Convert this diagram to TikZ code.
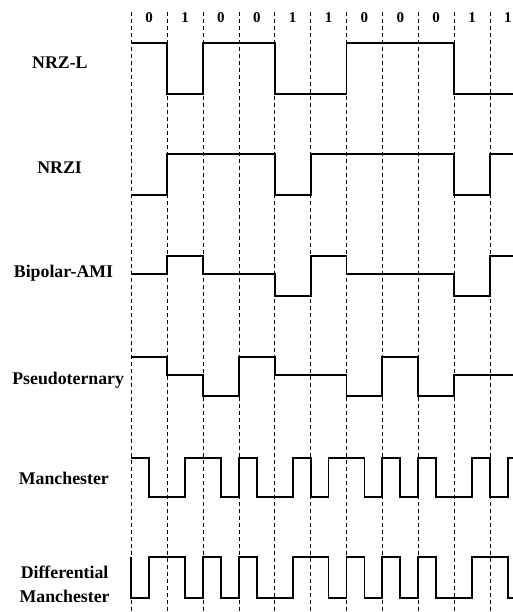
\documentclass[tikz,border=0pt]{standalone}
\usepackage{fontspec}
\setmainfont{Liberation Serif}
\tikzstyle{signal} = [draw, line width=1.8pt]
\tikzstyle{bitline} = [draw, line width=0.7pt, dash pattern=on 4pt off 3pt]
\tikzstyle{codename} = [font=\fontsize{17.8}{24}\selectfont\bfseries, align=center]
\tikzstyle{bitval} = [font=\fontsize{15}{15}\selectfont\bfseries]

\begin{document}
\begin{tikzpicture}[x=35.87pt, y=-1pt]
		\useasboundingbox (-3.6604,0) rectangle (10.641,612);
		% bit boundaries and data bits
		\foreach \i in {0,...,10}
			\path [bitline] (\i,12) -- (\i,612);
		\foreach \b [count=\i from 0] in {0,1,0,0,1,1,0,0,0,1,1}
			\node [bitval] (bit\i) at (\i+0.5,17.5) {\b};
		
		\node [codename] (nrzl) at (-1.99,63) {NRZ-L};
		\node [codename] (nrzi) at (-2.0,168) {NRZI};
		\node [codename] (ami) at (-1.89,273) {Bipolar-AMI};
		\node [codename] (pseudo) at (-1.76,380) {Pseudoternary};
		\node [codename] (manch) at (-1.88,478) {Manchester};
		\node [codename] (diffmanch) at (-1.86,584) {Differential\\Manchester};
		
		% NRZ-L
		\path [signal] (0,43) -| (1,94) -| (2,43) -| (4,94) -| (6,43) -| (9,94) -- (11,94);
		% NRZI
		\path [signal] (0,195) -| (1,154.3) -| (4,195) -| (5,154.3) -| (9,195) -| (10,154.3) -- (11,154.3);
		% Bipolar-AMI
		\path [signal] (0,274.3) -| (1,255.7) -| (2,274.3) -| (4,296) -| (5,255.7) -| (6,274.3) -| (9,296) -| (10,255.7) -- (11,255.7);
		% Pseudoternary
		\path [signal] (0,356.7) -| (1,375) -| (2,396) -| (3,356.7) -| (4,375) -| (6,396) -| (7,356.7) -| (8,396) -| (9,375) -- (11,375);
		% Manchester
		\path [signal] (0,457.7) -| (0.5,496.7) -| (1.5,457.7) -| (2.5,496.7) -| (3,457.7) -| (3.5,496.7) -| (4.5,457.7) -| (5,496.7) -| (5.5,457.7) -| (6.5,496.7) -| (7,457.7) -| (7.5,496.7) -| (8,457.7) -| (8.5,496.7) -| (9.5,457.7) -| (10,496.7) -| (10.5,457.7) -- (11,457.7);
		% Differential Manchester
		\path [signal] (0,557.3) -- (0,597.7) -| (0.5,557.3) -| (1.5,597.7) -| (2,557.3) -| (2.5,597.7) -| (3,557.3) -| (3.5,597.7) -| (4.5,557.3) -| (5.5,597.7) -| (6,557.3) -| (6.5,597.7) -| (7,557.3) -| (7.5,597.7) -| (8,557.3) -| (8.5,597.7) -| (9.5,557.3) -| (10.5,597.7) -- (11,597.7);
		
	\end{tikzpicture}
\end{document}
